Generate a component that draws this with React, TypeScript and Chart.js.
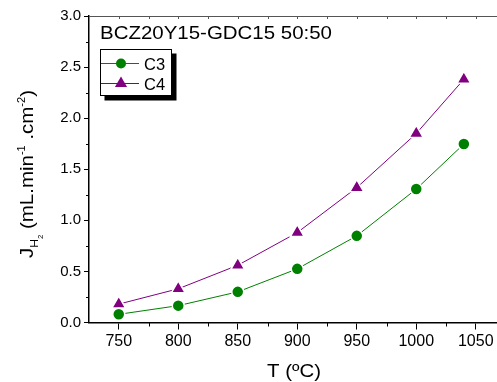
import React, { useEffect, useRef } from 'react';
import { Chart, registerables } from 'chart.js';

Chart.register(...registerables);

const temperatures = [750, 800, 850, 900, 950, 1000, 1040];
const c3Values = [0.08, 0.165, 0.3, 0.525, 0.848, 1.306, 1.747];
const c4Values = [0.18, 0.33, 0.56, 0.88, 1.32, 1.85, 2.38];
const seriesLabels = ['C3', 'C4'];
const seriesColors = ['#008000', '#800080'];
const chartTitle = 'BCZ20Y15-GDC15 50:50';
const xTitle = 'T (ºC)';
const xTickLabels = [750, 800, 850, 900, 950, 1000, 1050];
const yTickLabels = [0, 0.5, 1, 1.5, 2, 2.5, 3];

const FONT = '"Liberation Sans", Arial, Helvetica, sans-serif';

const decorPlugin = {
  id: 'decor',
  afterDraw(chart: any) {
    const ctx = chart.ctx as CanvasRenderingContext2D;
    const ca = chart.chartArea;
    const xs = chart.scales.x;
    const ys = chart.scales.y;
    ctx.save();
    // minor ticks bottom
    ctx.strokeStyle = '#000';
    ctx.lineWidth = 1;
    for (let v = 775; v <= 1075; v += 50) {
      const px = Math.round(xs.getPixelForValue(v)) + 0.5;
      ctx.beginPath();
      ctx.moveTo(px, ca.bottom);
      ctx.lineTo(px, ca.bottom + 4);
      ctx.stroke();
    }
    // top axis
    ctx.strokeStyle = '#555';
    ctx.beginPath();
    ctx.moveTo(ca.left, Math.round(ca.top) + 0.5);
    ctx.lineTo(ca.right, Math.round(ca.top) + 0.5);
    ctx.stroke();
    for (let v = 750; v <= 1075; v += 25) {
      const px = Math.round(xs.getPixelForValue(v)) + 0.5;
      ctx.beginPath();
      ctx.moveTo(px, ca.top);
      ctx.lineTo(px, ca.top + 3);
      ctx.stroke();
    }
    // minor ticks y
    ctx.strokeStyle = '#000';
    for (let v = 0.25; v < 3; v += 0.5) {
      const py = Math.round(ys.getPixelForValue(v)) + 0.5;
      ctx.beginPath();
      ctx.moveTo(ca.left, py);
      ctx.lineTo(ca.left - 3, py);
      ctx.stroke();
    }

    // title
    ctx.fillStyle = '#000';
    ctx.textBaseline = 'alphabetic';
    ctx.textAlign = 'left';
    ctx.font = `19px ${FONT}`;
    {
      const w = ctx.measureText(chartTitle).width;
      const sx = 232 / w;
      ctx.save();
      ctx.translate(100, 38.5);
      ctx.scale(sx, 1);
      ctx.fillText(chartTitle, 0, 0);
      ctx.restore();
    }

    // x title
    ctx.font = `18.5px ${FONT}`;
    {
      const w = ctx.measureText(xTitle).width;
      const sx = 54 / w;
      ctx.save();
      ctx.translate(294 - 27, 377);
      ctx.scale(sx, 1);
      ctx.fillText(xTitle, 0, 0);
      ctx.restore();
    }

    // y title
    const pieces: [string, number, number][] = [
      ['J', 18.5, 0],
      ['H', 11, 5],
      ['2', 7, 10],
      [' (mL.min', 18.5, 0],
      ['-1', 10, -8],
      [' .cm', 18.5, 0],
      ['-2', 10, -8],
      [')', 18.5, 0],
    ];
    let total = 0;
    const widths: number[] = [];
    for (const [t, s] of pieces) {
      ctx.font = `${s}px ${FONT}`;
      const w = ctx.measureText(t).width;
      widths.push(w);
      total += w;
    }
    const target = 168;
    const sy = target / total;
    ctx.save();
    ctx.translate(33, 174);
    ctx.rotate(-Math.PI / 2);
    ctx.scale(sy, 1);
    let u = -total / 2;
    pieces.forEach(([t, s, shift], i) => {
      ctx.font = `${s}px ${FONT}`;
      ctx.fillText(t, u, shift);
      u += widths[i];
    });
    ctx.restore();

    // legend
    const lx = 100, ly = 49, lw = 72, lh = 47;
    ctx.fillStyle = '#000';
    ctx.fillRect(lx + 4.5, ly + 4.5, lw, lh);
    ctx.fillStyle = '#fff';
    ctx.fillRect(lx, ly, lw, lh);
    ctx.strokeStyle = '#000';
    ctx.lineWidth = 1;
    ctx.strokeRect(lx + 0.5, ly + 0.5, lw - 1, lh - 1);
    const rows = [63.5, 83.5];
    rows.forEach((ry, i) => {
      ctx.strokeStyle = seriesColors[i];
      ctx.lineWidth = 1;
      ctx.beginPath();
      ctx.moveTo(101, ry);
      ctx.lineTo(139, ry);
      ctx.stroke();
      ctx.fillStyle = seriesColors[i];
      ctx.beginPath();
      if (i === 0) {
        ctx.arc(121, ry, 5, 0, Math.PI * 2);
      } else {
        const r = 7;
        ctx.moveTo(121, ry - r);
        ctx.lineTo(121 + r * Math.sin((2 * Math.PI) / 3), ry - r * Math.cos((2 * Math.PI) / 3));
        ctx.lineTo(121 + r * Math.sin((4 * Math.PI) / 3), ry - r * Math.cos((4 * Math.PI) / 3));
        ctx.closePath();
      }
      ctx.fill();
      ctx.fillStyle = '#000';
      ctx.font = `16.5px ${FONT}`;
      ctx.fillText(seriesLabels[i], 144, ry + 6);
    });
    ctx.restore();
  },
};

export default function App() {
  const ref = useRef<HTMLCanvasElement | null>(null);
  useEffect(() => {
    if (!ref.current) return;
    const chart = new Chart(ref.current, {
      type: 'line',
      data: {
        datasets: [
          {
            label: seriesLabels[0],
            data: temperatures.map((t, i) => ({ x: t, y: c3Values[i] })),
            borderColor: seriesColors[0],
            backgroundColor: seriesColors[0],
            borderWidth: 1,
            pointStyle: 'circle',
            pointRadius: 6,
            pointBorderColor: '#fff',
            pointBorderWidth: 1.5,
            pointBackgroundColor: seriesColors[0],
            tension: 0,
          },
          {
            label: seriesLabels[1],
            data: temperatures.map((t, i) => ({ x: t, y: c4Values[i] })),
            borderColor: seriesColors[1],
            backgroundColor: seriesColors[1],
            borderWidth: 1,
            pointStyle: 'triangle',
            pointRadius: 8,
            pointBorderColor: '#fff',
            pointBorderWidth: 1.5,
            pointBackgroundColor: seriesColors[1],
            tension: 0,
          },
        ],
      },
      options: {
        responsive: false,
        animation: false,
        events: [],
        layout: { padding: { top: 16, right: 9, left: 0, bottom: 0 } },
        plugins: { legend: { display: false }, tooltip: { enabled: false }, title: { display: false } },
        scales: {
          x: {
            type: 'linear',
            min: 725,
            max: 1075,
            afterFit: (s: any) => { s.height = 59.5; },
            afterBuildTicks: (s: any) => { s.ticks = xTickLabels.map((v) => ({ value: v })); },
            ticks: {
              includeBounds: false,
              stepSize: 50,
              color: '#000',
              padding: 2,
              maxRotation: 0,
              font: { family: FONT, size: 16 },
              callback: (v: any) => String(v),
            },
            grid: { display: true, drawOnChartArea: false, drawTicks: true, tickLength: 7, color: '#000', tickWidth: 1 },
            border: { display: true, color: '#000', width: 1.5 },
          },
          y: {
            type: 'linear',
            min: 0,
            max: 3,
            afterFit: (s: any) => { s.width = 89; },
            afterBuildTicks: (s: any) => { s.ticks = yTickLabels.map((v) => ({ value: v })); },
            ticks: {
              stepSize: 0.5,
              color: '#000',
              padding: 3,
              font: { family: FONT, size: 15 },
              callback: (v: any) => Number(v).toFixed(1),
            },
            grid: { display: true, drawOnChartArea: false, drawTicks: true, tickLength: 5, color: '#000', tickWidth: 1 },
            border: { display: true, color: '#000', width: 1.5 },
          },
        },
      },
      plugins: [decorPlugin],
    });
    return () => chart.destroy();
  }, []);
  return (
    <div style={{ position: 'absolute', left: 0, top: 0, width: 497, height: 382, overflow: 'hidden', background: '#fff' }}>
      <canvas ref={ref} width={515} height={382} style={{ display: 'block' }} />
    </div>
  );
}
